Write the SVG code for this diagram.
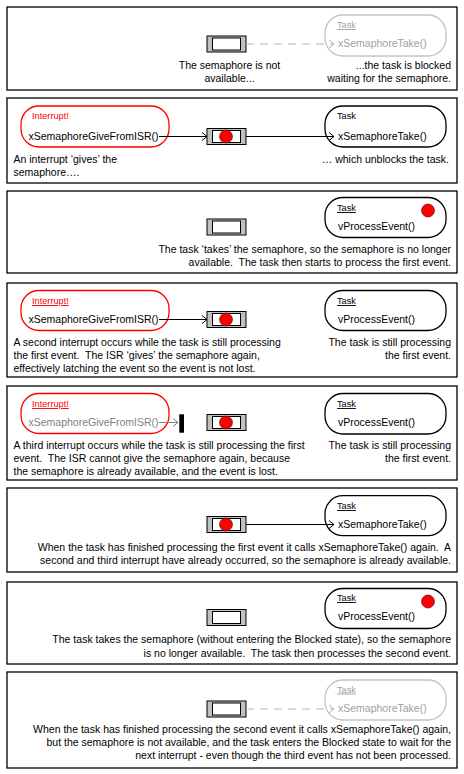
<svg xmlns="http://www.w3.org/2000/svg" width="464" height="774" viewBox="0 0 464 774" xml:space="preserve">
<defs>
<style>
.panel{fill:#fff;stroke:#000;stroke-width:1.3}
.task{fill:#fff;stroke:#000;stroke-width:1.3}
.task.off{stroke:#c4c4c4}
.isr{fill:#fff;stroke:#ff0000;stroke-width:1.3}
.sem-o{fill:#c0c0c0;stroke:#000;stroke-width:1}
.sem-i{fill:#fff;stroke:#000;stroke-width:1}
.dot{fill:#ff0000;stroke:#400;stroke-width:0.6}
text{font-family:"Liberation Sans",Arial,sans-serif;font-size:10.5px;fill:#000;white-space:pre}
.lbl{font-size:9.2px}
.ul{text-decoration:underline}
.red{fill:#ff0000}
.grey{fill:#a0a0a0}
.dgrey{fill:#808080}
.r{text-anchor:end}
.m{text-anchor:middle}
.ln{stroke:#000;stroke-width:1;fill:none}
.ln.g{stroke:#b4b4b4}
.ln.dg{stroke:#808080}
.dash{stroke-dasharray:8 6}
</style>
<marker id="chev" markerWidth="8" markerHeight="10" refX="6" refY="5" orient="auto" markerUnits="userSpaceOnUse"><path d="M1,1 L6,5 L1,9" fill="none" stroke="#000" stroke-width="1"/></marker>
<marker id="chevg" markerWidth="8" markerHeight="10" refX="6" refY="5" orient="auto" markerUnits="userSpaceOnUse"><path d="M1,1 L6,5 L1,9" fill="none" stroke="#b4b4b4" stroke-width="1"/></marker>
<marker id="chevdg" markerWidth="8" markerHeight="10" refX="6" refY="5" orient="auto" markerUnits="userSpaceOnUse"><path d="M1,1 L6,5 L1,9" fill="none" stroke="#808080" stroke-width="1"/></marker>
<g id="semaphore-empty"><rect class="sem-o" x="0" y="0" width="39" height="16"/><rect class="sem-i" x="5.5" y="2" width="28" height="12"/></g>
<g id="semaphore-full"><use href="#semaphore-empty"/><circle class="dot" cx="19" cy="8" r="6.5"/></g>
</defs>
<rect width="464" height="774" fill="#fff"/>

<!-- Panel 1 -->
<g id="panel1">
<rect class="panel" x="7" y="7" width="450" height="83"/>
<g id="p1-sem"><use href="#semaphore-empty" x="207" y="36"/></g>
<g id="p1-task"><rect class="task off" x="325" y="15" width="121" height="41" rx="18"/><text class="lbl ul grey" x="337" y="28">Task</text><text class="grey" x="338" y="47">xSemaphoreTake()</text></g>
<text class="m" x="229.5" y="68.5">The semaphore is not</text>
<text class="m" x="229.5" y="81.5">available...</text>
<text class="r" x="451" y="68.5">...the task is blocked</text>
<text class="r" x="451" y="81.5">waiting for the semaphore.</text>
</g>

<!-- Panel 2 -->
<g id="panel2">
<rect class="panel" x="7" y="98" width="450" height="85"/>
<g id="p2-isr"><rect class="isr" x="21" y="106" width="148" height="41" rx="18"/><text class="lbl red" x="32" y="119">Interrupt!</text><text x="28.5" y="139.5">xSemaphoreGiveFromISR()</text></g>
<g id="p2-sem"><use href="#semaphore-full" x="207" y="128.5"/></g>
<g id="p2-task"><rect class="task" x="325" y="106" width="121" height="41" rx="18"/><text class="lbl" x="337" y="119">Task</text><text x="338" y="139.5">xSemaphoreTake()</text></g>
<text x="13.5" y="162.5">An interrupt ‘gives’ the</text>
<text x="13.5" y="175.5">semaphore….</text>
<text class="r" x="449" y="162.5">… which unblocks the task.</text>
</g>

<!-- Panel 3 -->
<g id="panel3">
<rect class="panel" x="7" y="191" width="450" height="82"/>
<g id="p3-sem"><use href="#semaphore-empty" x="207" y="219"/></g>
<g id="p3-task"><rect class="task" x="325" y="197.5" width="121" height="40" rx="18"/><text class="lbl ul" x="337" y="211">Task</text><circle class="dot" cx="428" cy="210.5" r="6.5"/><text x="338" y="230">vProcessEvent()</text></g>
<text class="r" x="451" y="253">The task ‘takes’ the semaphore, so the semaphore is no longer</text>
<text class="r" x="451" y="265.5">available.  The task then starts to process the first event.</text>
</g>

<!-- Panel 4 -->
<g id="panel4">
<rect class="panel" x="7" y="283" width="450" height="94"/>
<g id="p4-isr"><rect class="isr" x="21" y="290.5" width="148" height="40" rx="18"/><text class="lbl red ul" x="32" y="304">Interrupt!</text><text x="28.5" y="322.5">xSemaphoreGiveFromISR()</text></g>
<g id="p4-sem"><use href="#semaphore-full" x="207" y="311.5"/></g>
<g id="p4-task"><rect class="task" x="325" y="290.5" width="121" height="40" rx="18"/><text class="lbl ul" x="337" y="304">Task</text><text x="338" y="322.5">vProcessEvent()</text></g>
<text x="13.5" y="346">A second interrupt occurs while the task is still processing</text>
<text x="13.5" y="359">the first event.  The ISR ‘gives’ the semaphore again,</text>
<text x="13.5" y="371.5">effectively latching the event so the event is not lost.</text>
<text class="r" x="451" y="346">The task is still processing</text>
<text class="r" x="451" y="359">the first event.</text>
</g>

<!-- Panel 5 -->
<g id="panel5">
<rect class="panel" x="7" y="386" width="450" height="94"/>
<g id="p5-isr"><rect class="isr" x="21" y="393.5" width="148" height="40" rx="18"/><text class="lbl red ul" x="32" y="407">Interrupt!</text><text class="dgrey" x="28.5" y="425.5">xSemaphoreGiveFromISR()</text></g>
<g id="p5-block"><rect x="179.3" y="414.3" width="4.7" height="18.4" fill="#000"/></g>
<g id="p5-sem"><use href="#semaphore-full" x="207" y="414.5"/></g>
<g id="p5-task"><rect class="task" x="325" y="393.5" width="121" height="40.5" rx="18"/><text class="lbl ul" x="337" y="407">Task</text><text x="338" y="425.5">vProcessEvent()</text></g>
<text x="13.5" y="449">A third interrupt occurs while the task is still processing the first</text>
<text x="13.5" y="462">event.  The ISR cannot give the semaphore again, because</text>
<text x="13.5" y="475">the semaphore is already available, and the event is lost.</text>
<text class="r" x="451" y="449">The task is still processing</text>
<text class="r" x="451" y="462">the first event.</text>
</g>

<!-- Panel 6 -->
<g id="panel6">
<rect class="panel" x="7" y="488" width="450" height="84"/>
<g id="p6-sem"><use href="#semaphore-full" x="207" y="516.5"/></g>
<g id="p6-task"><rect class="task" x="325" y="495.7" width="121" height="40" rx="18"/><text class="lbl ul" x="337" y="509">Task</text><text x="338" y="527.7">xSemaphoreTake()</text></g>
<text class="r" x="451" y="551">When the task has finished processing the first event it calls xSemaphoreTake() again.  A</text>
<text class="r" x="451" y="564">second and third interrupt have already occurred, so the semaphore is already available.</text>
</g>

<!-- Panel 7 -->
<g id="panel7">
<rect class="panel" x="7" y="582" width="450" height="82"/>
<g id="p7-sem"><use href="#semaphore-empty" x="207" y="609.5"/></g>
<g id="p7-task"><rect class="task" x="325" y="588.5" width="121" height="40" rx="18"/><text class="lbl ul" x="337" y="601">Task</text><circle class="dot" cx="428" cy="601.5" r="6.5"/><text x="338" y="620">vProcessEvent()</text></g>
<text class="r" x="451" y="643">The task takes the semaphore (without entering the Blocked state), so the semaphore</text>
<text class="r" x="451" y="656.5">is no longer available.  The task then processes the second event.</text>
</g>

<!-- Panel 8 -->
<g id="panel8">
<rect class="panel" x="7" y="672" width="450" height="96"/>
<g id="p8-sem"><use href="#semaphore-empty" x="207" y="701"/></g>
<g id="p8-task"><rect class="task off" x="325" y="680" width="121" height="40" rx="18"/><text class="lbl ul grey" x="337" y="692.5">Task</text><text class="grey" x="338" y="712.3">xSemaphoreTake()</text></g>
<text class="r" x="451" y="732.7">When the task has finished processing the second event it calls xSemaphoreTake() again,</text>
<text class="r" x="451" y="746">but the semaphore is not available, and the task enters the Blocked state to wait for the</text>
<text class="r" x="451" y="759">next interrupt - even though the third event has not been processed.</text>
</g>

<!-- Connectors -->
<g id="connectors">
<line class="ln g dash" x1="246" y1="44" x2="334" y2="44" marker-end="url(#chevg)"/>
<line class="ln" x1="159" y1="136.5" x2="207" y2="136.5" marker-end="url(#chev)"/>
<line class="ln" x1="246" y1="136.5" x2="334" y2="136.5" marker-end="url(#chev)"/>
<line class="ln" x1="159" y1="319.5" x2="207" y2="319.5" marker-end="url(#chev)"/>
<line class="ln dg" x1="159" y1="422.5" x2="178" y2="422.5" marker-end="url(#chevdg)"/>
<line class="ln" x1="246" y1="524.5" x2="334" y2="524.5" marker-end="url(#chev)"/>
<line class="ln g dash" x1="246" y1="709" x2="334" y2="709" marker-end="url(#chevg)"/>
</g>
</svg>
